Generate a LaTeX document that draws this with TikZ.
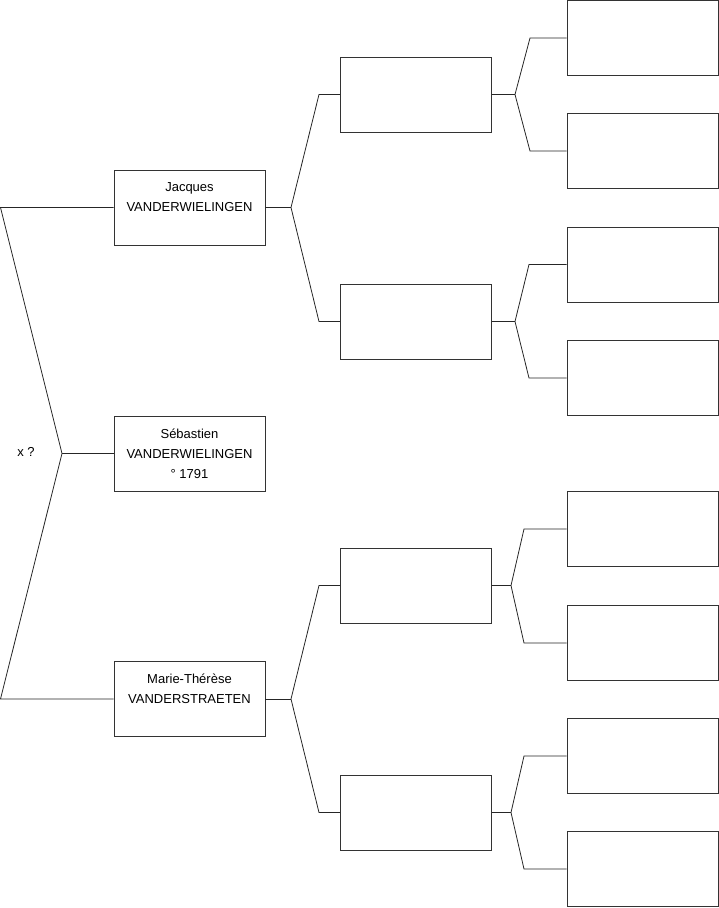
\documentclass[tikz,border=0pt]{standalone}
\usepackage{fontspec}
\setmainfont{Liberation Sans}
\tikzset{
  pbox/.style ={draw=black!80,line width=0.8pt,minimum width=151pt,
                minimum height=75pt,inner sep=0pt,align=center,
                font=\fontsize{13}{20}\selectfont},
  lnk/.style  ={draw=black!85,line width=0.8pt},
  ann/.style  ={font=\fontsize{13}{20}\selectfont,inner sep=1pt},
}
\begin{document}
\begin{tikzpicture}[x=1pt, y=-1pt]
\useasboundingbox (0,0) rectangle (719,908);

%% ---------------- persons ----------------
%% generation 1 and 2: named boxes
\node[pbox] (seb) at (189.5,453.5) {S\'ebastien\\VANDERWIELINGEN\\\textdegree\ 1791};
\node[pbox] (jac) at (189.5,207.5) {Jacques\\VANDERWIELINGEN\\~};
\node[pbox] (mar) at (189.5,699)   {Marie-Th\'er\`ese\\VANDERSTRAETEN\\~};

%% generation 3 and 4: empty boxes
\foreach \n/\y in {g3a/94.5, g3b/321.5, g3c/585.5, g3d/812.5}
  \node[pbox] (\n) at (416,\y) {};
\foreach \n/\y in {g4a/38, g4b/151, g4c/264.5, g4d/378,
                   g4e/529, g4f/643, g4g/756, g4h/869}
  \node[pbox] (\n) at (642.5,\y) {};

%% ---------------- links ----------------
%% parents of the first person
\coordinate (root) at (62,453.5);
\coordinate (pa)   at (0.5,207.5);
\coordinate (ma)   at (0.5,699);
\node[ann] (xq) at (26,452) {x ?};
\draw[lnk] (jac.west) -- (pa) -- (root) -- (ma) -- (mar.west);
\draw[lnk] (root) -- (seb.west);

%% forks: parent / upper child / lower child / fork x / elbow x
\foreach \p/\a/\b/\fx/\ex in {jac/g3a/g3b/291/319, mar/g3c/g3d/291/319,
                               g3a/g4a/g4b/515/530, g3b/g4c/g4d/515/529,
                               g3c/g4e/g4f/511/524, g3d/g4g/g4h/511/524}{
  \draw[lnk] (\a.west) -- (\ex,0 |- \a.west) -- (\fx,0 |- \p.east)
             -- (\ex,0 |- \b.west) -- (\b.west);
  \draw[lnk] (\p.east) -- (\fx,0 |- \p.east);
}

\end{tikzpicture}
\end{document}
